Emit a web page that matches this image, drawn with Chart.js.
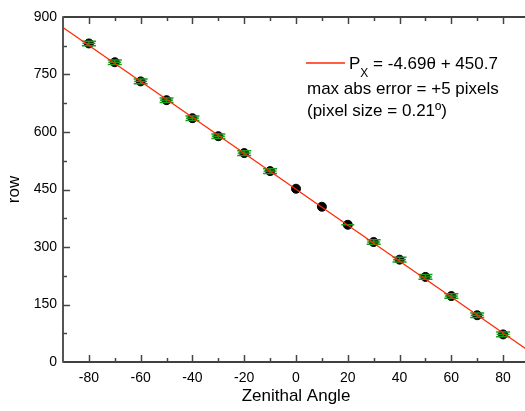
<!DOCTYPE html>
<html><head><meta charset="utf-8">
<script src="https://cdn.jsdelivr.net/npm/chart.js@4/dist/chart.umd.min.js"></script>
<style>html,body{margin:0;padding:0;overflow:hidden;background:#fff;width:525px;height:411px}#wrap{width:540px;height:411px;position:relative}</style>
</head><body><div id="wrap"><canvas id="c" width="540" height="411"></canvas></div>
<script>
const angles = [-80,-70,-60,-50,-40,-30,-20,-10,0,10,20,30,40,50,60,70,80];
const rows = [831,782,732,683,636,589,545,498,452,405,358,313,267,222,172,122,72];
const rowErr = [6,6,6,6,6,6,6,6,0,0,1,6,6,6,6,6,6];
const angErr = [2.5,2.5,2.5,2.5,2.5,2.5,2.5,2.5,0,0,2.5,2.5,2.5,2.5,2.5,2.5,2.5];
const fitSlope = -4.69, fitIntercept = 450.7;
const fitX = [-90, 90];
const xTicks = [-80,-60,-40,-20,0,20,40,60,80];
const yTicks = [0,150,300,450,600,750,900];
const legendLines = ["P", "X", " = -4.69\u03b8 + 450.7", "max abs error = +5 pixels", "(pixel size = 0.21\u00ba)"];

const FONT = "Liberation Sans, Arial, sans-serif";
const fitData = fitX.map(x => ({x, y: fitSlope*x + fitIntercept}));
const pts = angles.map((a,i) => ({x:a, y:rows[i]}));

const errPlugin = {
  id:'err',
  afterDatasetDraw(chart, args){
    if (args.index !== 0) return;
    const ctx = chart.ctx, xs = chart.scales.x, ys = chart.scales.y;
    ctx.save();
    ctx.strokeStyle = '#1a9a1a';
    ctx.lineWidth = 1.5;
    angles.forEach((a,i)=>{
      const px = xs.getPixelForValue(a), py = ys.getPixelForValue(rows[i]);
      if (angErr[i] > 0){
        const x1 = xs.getPixelForValue(a-angErr[i]), x2 = xs.getPixelForValue(a+angErr[i]);
        ctx.beginPath(); ctx.moveTo(x1,py); ctx.lineTo(x2,py); ctx.stroke();
      }
      if (rowErr[i] > 1){
        const y1 = ys.getPixelForValue(rows[i]+rowErr[i]), y2 = ys.getPixelForValue(rows[i]-rowErr[i]);
        ctx.beginPath();
        ctx.moveTo(px,y1); ctx.lineTo(px,y2);
        ctx.moveTo(px-7,y1); ctx.lineTo(px+7,y1);
        ctx.moveTo(px-7,y2); ctx.lineTo(px+7,y2);
        ctx.stroke();
      }
    });
    ctx.restore();
  }
};

const framePlugin = {
  id:'frame',
  afterDraw(chart){
    const ctx = chart.ctx, xs = chart.scales.x, ys = chart.scales.y, a = chart.chartArea;
    ctx.save();
    ctx.strokeStyle = '#000'; ctx.lineWidth = 1.5;
    ctx.beginPath(); ctx.moveTo(a.left, a.bottom); ctx.lineTo(a.right, a.bottom); ctx.stroke();
    ctx.beginPath(); ctx.moveTo(a.left, a.top); ctx.lineTo(a.right, a.top); ctx.stroke();
    ctx.strokeStyle = '#555'; ctx.lineWidth = 2;
    ctx.beginPath(); ctx.moveTo(a.left, a.top-0.75); ctx.lineTo(a.left, a.bottom+0.75); ctx.stroke();
    ctx.strokeStyle = '#444'; ctx.lineWidth = 1.5;
    for (let v=-80; v<=90; v+=10){
      const px = Math.round(xs.getPixelForValue(v))+0.5;
      const L = (v%20===0)?7:4;
      ctx.beginPath(); ctx.moveTo(px,a.bottom); ctx.lineTo(px,a.bottom-L); ctx.stroke();
      ctx.beginPath(); ctx.moveTo(px,a.top); ctx.lineTo(px,a.top+L); ctx.stroke();
    }
    for (let v=75; v<900; v+=75){
      const py = Math.round(ys.getPixelForValue(v))+0.5;
      const L = (v%150===0)?7:4;
      ctx.beginPath(); ctx.moveTo(a.left,py); ctx.lineTo(a.left+L,py); ctx.stroke();
    }
    // legend
    ctx.strokeStyle = '#ff2a00'; ctx.lineWidth = 1.5;
    ctx.beginPath(); ctx.moveTo(306,63); ctx.lineTo(345,63); ctx.stroke();
    ctx.fillStyle = '#000';
    ctx.textBaseline = 'alphabetic'; ctx.textAlign = 'left';
    ctx.font = '17px ' + FONT;
    ctx.fillText(legendLines[0], 349, 69);
    const pw = ctx.measureText(legendLines[0]).width;
    ctx.font = '12px ' + FONT;
    ctx.fillText(legendLines[1], 349+pw, 77);
    const xw = ctx.measureText(legendLines[1]).width;
    ctx.font = '17px ' + FONT;
    ctx.fillText(legendLines[2], 349+pw+xw, 69);
    ctx.font = '17px ' + FONT;
    ctx.fillText(legendLines[3], 307, 94);
    ctx.fillText(legendLines[4], 307, 116);
    ctx.restore();
  }
};

new Chart(document.getElementById('c'), {
  type:'scatter',
  data:{datasets:[
    {data:pts, backgroundColor:'#000', borderColor:'#000', pointRadius:4.5, pointHoverRadius:4.5, order:2},
    {type:'line', data:fitData, borderColor:'#ff2a00', borderWidth:1.3, pointRadius:0, fill:false, order:1, clip:{left:0,top:0,right:0,bottom:0}}
  ]},
  options:{
    responsive:false, animation:false,
    layout:{padding:{left:0, top:17, right:11, bottom:0}},
    plugins:{legend:{display:false}, tooltip:{enabled:false}},
    scales:{
      x:{type:'linear', min:-90, max:90,
        afterFit(s){ s.height = 49; },
        afterBuildTicks(s){ s.ticks = xTicks.map(v=>({value:v})); },
        grid:{display:false, drawTicks:false}, border:{display:false},
        ticks:{padding:8, color:'#000', font:{family:FONT, size:14}},
        title:{display:true, text:'Zenithal Angle', color:'#000', font:{family:FONT, size:17}, padding:{top:9}}
      },
      y:{type:'linear', min:0, max:900,
        afterFit(s){ s.width = 63; },
        afterBuildTicks(s){ s.ticks = yTicks.map(v=>({value:v})); },
        grid:{display:false, drawTicks:false}, border:{display:false},
        ticks:{padding:6, color:'#000', font:{family:FONT, size:14}},
        title:{display:true, text:'row', color:'#000', font:{family:FONT, size:17}, padding:{bottom:0}}
      }
    }
  },
  plugins:[errPlugin, framePlugin]
});
</script></body></html>
